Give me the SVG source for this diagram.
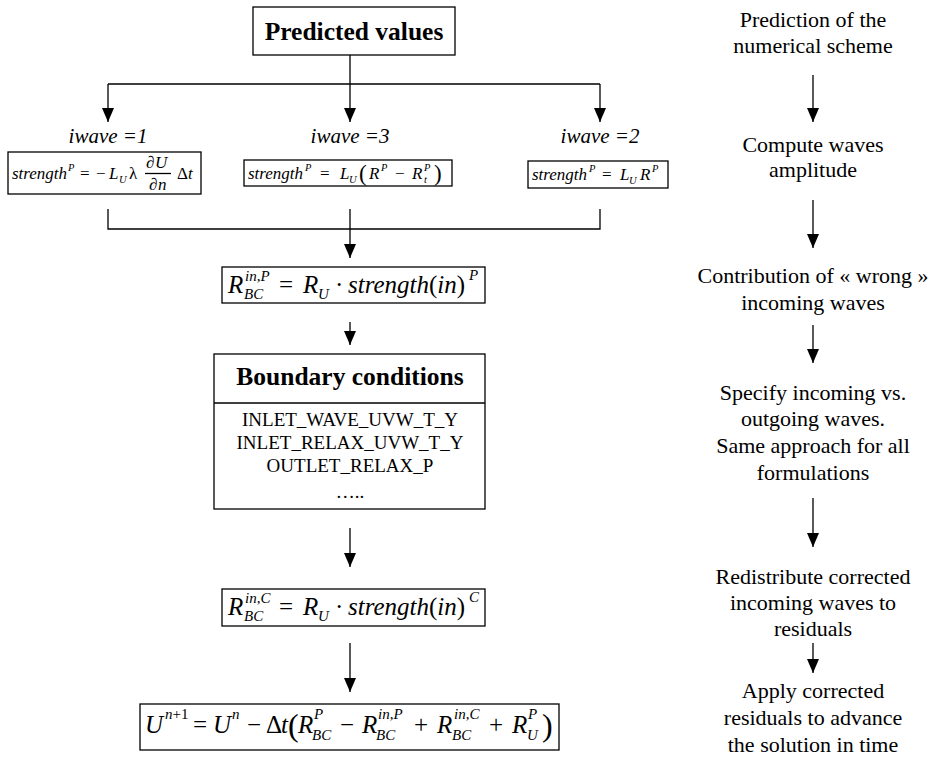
<svg xmlns="http://www.w3.org/2000/svg" width="933" height="758" viewBox="0 0 933 758">
<style>
text{font-family:"Liberation Serif","Times New Roman",serif;fill:#000}
.box{fill:#fff;stroke:#000;stroke-width:1.3}
.ln{fill:none;stroke:#000;stroke-width:1.3}
.t22{font-size:22px;text-anchor:middle}
.ttl{font-size:25.5px;font-weight:bold;text-anchor:middle}
.bc{font-size:19px;text-anchor:middle}
.iw{font-size:21px;font-style:italic;text-anchor:middle}
.i{font-style:italic}
.f17{font-size:17px}
.f25{font-size:25px}
.s10{font-size:10.5px}
.s15{font-size:15px}
</style>
<defs>
<marker id="ah" markerUnits="userSpaceOnUse" markerWidth="14" markerHeight="16" viewBox="0 0 14 16" refX="14" refY="8" orient="auto">
<path d="M0,2 L14,8 L0,14 Z" fill="#000"/>
</marker>
</defs>

<g id="connectors">
<path class="ln" d="M350,55 V84 M108,84 H600"/>
<path class="ln" d="M108,84 V122" marker-end="url(#ah)"/>
<path class="ln" d="M350,84 V122" marker-end="url(#ah)"/>
<path class="ln" d="M600,84 V122" marker-end="url(#ah)"/>
<path class="ln" d="M108,209 V229 H600 V209"/>
<path class="ln" d="M350,209 V258" marker-end="url(#ah)"/>
<path class="ln" d="M350,322 V345" marker-end="url(#ah)"/>
<path class="ln" d="M350,528 V567" marker-end="url(#ah)"/>
<path class="ln" d="M350,643 V692" marker-end="url(#ah)"/>
<path class="ln" d="M813,75 V122" marker-end="url(#ah)"/>
<path class="ln" d="M813,200 V248" marker-end="url(#ah)"/>
<path class="ln" d="M813,325 V363" marker-end="url(#ah)"/>
<path class="ln" d="M813,498 V547" marker-end="url(#ah)"/>
<path class="ln" d="M813,643 V673" marker-end="url(#ah)"/>
</g>

<g id="predicted">
<rect class="box" x="253" y="7" width="202" height="48"/>
<text class="ttl" x="354" y="40">Predicted values</text>
</g>

<g id="wave1">
<text class="iw" x="108" y="143">iwave =1</text>
<rect class="box" x="8" y="152" width="193" height="42"/>
<text class="f17"><tspan class="i" x="12" y="179">strength</tspan><tspan class="i s10" x="68" y="171">P</tspan><tspan x="80" y="179">=</tspan><tspan x="96" y="179">−</tspan><tspan class="i" x="109" y="179">L</tspan><tspan class="i s10" x="119" y="183">U</tspan><tspan x="129" y="179">λ</tspan><tspan x="146" y="168">∂</tspan><tspan class="i" x="155" y="168">U</tspan><tspan x="149" y="190">∂</tspan><tspan class="i" x="158" y="190">n</tspan><tspan x="177" y="179">Δ</tspan><tspan class="i" x="188" y="179">t</tspan></text>
<path class="ln" d="M145,173.5 H171" stroke-width="1"/>
</g>

<g id="wave3">
<text class="iw" x="350" y="143">iwave =3</text>
<rect class="box" x="244" y="160" width="208" height="26"/>
<text class="f17"><tspan class="i" x="248" y="179">strength</tspan><tspan class="i s10" x="305" y="171">P</tspan><tspan x="320" y="179">=</tspan><tspan class="i" x="340" y="179">L</tspan><tspan class="i s10" x="349" y="183">U</tspan><tspan x="369" y="179" class="i">R</tspan><tspan class="i s10" x="381" y="171">P</tspan><tspan x="395" y="179">−</tspan><tspan class="i" x="412" y="179">R</tspan><tspan class="i s10" x="424" y="171">P</tspan><tspan class="i s10" x="424" y="183">t</tspan></text>
<text x="359" y="181" font-size="23" transform="translate(0 0)">(</text>
<text x="434" y="181" font-size="23">)</text>
</g>

<g id="wave2">
<text class="iw" x="600" y="143">iwave =2</text>
<rect class="box" x="528" y="161" width="140" height="27"/>
<text class="f17"><tspan class="i" x="532" y="180">strength</tspan><tspan class="i s10" x="589" y="172">P</tspan><tspan x="602" y="180">=</tspan><tspan class="i" x="620" y="180">L</tspan><tspan class="i s10" x="629" y="184">U</tspan><tspan class="i" x="640" y="180">R</tspan><tspan class="i s10" x="652" y="172">P</tspan></text>
</g>

<g id="rbc-p">
<rect class="box" x="222" y="267" width="263" height="36"/>
<text class="f25"><tspan class="i" x="228" y="293">R</tspan><tspan class="i s15" x="245" y="281">in,P</tspan><tspan class="i s15" x="244" y="299">BC</tspan><tspan x="279" y="293">=</tspan><tspan class="i" x="303" y="293">R</tspan><tspan class="i s15" x="318" y="299">U</tspan><tspan x="335" y="293">·</tspan><tspan class="i" x="348" y="293">strength</tspan><tspan>(</tspan><tspan class="i">in</tspan><tspan>)</tspan><tspan class="i s15" x="469" y="280">P</tspan></text>
</g>

<g id="boundary">
<rect class="box" x="214" y="354" width="271" height="155"/>
<path class="ln" d="M214,403 H485"/>
<text class="ttl" x="350" y="385">Boundary conditions</text>
<text class="bc" x="350" y="426">INLET_WAVE_UVW_T_Y</text>
<text class="bc" x="350" y="449">INLET_RELAX_UVW_T_Y</text>
<text class="bc" x="350" y="472">OUTLET_RELAX_P</text>
<text class="bc" x="350" y="498">…..</text>
</g>

<g id="rbc-c">
<rect class="box" x="222" y="589" width="263" height="37"/>
<text class="f25"><tspan class="i" x="228" y="615">R</tspan><tspan class="i s15" x="245" y="603">in,C</tspan><tspan class="i s15" x="244" y="621">BC</tspan><tspan x="279" y="615">=</tspan><tspan class="i" x="303" y="615">R</tspan><tspan class="i s15" x="318" y="621">U</tspan><tspan x="335" y="615">·</tspan><tspan class="i" x="348" y="615">strength</tspan><tspan>(</tspan><tspan class="i">in</tspan><tspan>)</tspan><tspan class="i s15" x="469" y="602">C</tspan></text>
</g>

<g id="update">
<rect class="box" x="140" y="704" width="419" height="46"/>
<text class="f25"><tspan class="i" x="145" y="733">U</tspan><tspan class="s15" x="165" y="719"><tspan class="i">n</tspan>+1</tspan><tspan x="193" y="733">=</tspan><tspan class="i" x="213" y="733">U</tspan><tspan class="i s15" x="232" y="719">n</tspan><tspan x="247" y="733">−</tspan><tspan x="266" y="733">Δ</tspan><tspan class="i" x="281" y="733">t</tspan><tspan class="i" x="298" y="733">R</tspan><tspan class="i s15" x="314" y="719">P</tspan><tspan class="i s15" x="312" y="740">BC</tspan><tspan x="340" y="733">−</tspan><tspan class="i" x="362" y="733">R</tspan><tspan class="i s15" x="378" y="719">in,P</tspan><tspan class="i s15" x="376" y="740">BC</tspan><tspan x="414" y="733">+</tspan><tspan class="i" x="437" y="733">R</tspan><tspan class="i s15" x="454" y="719">in,C</tspan><tspan class="i s15" x="452" y="740">BC</tspan><tspan x="489" y="733">+</tspan><tspan class="i" x="512" y="733">R</tspan><tspan class="i s15" x="528" y="719">P</tspan><tspan class="i s15" x="527" y="740">U</tspan></text>
<text x="288" y="736" font-size="32">(</text>
<text x="542" y="736" font-size="32">)</text>
</g>

<g id="steps">
<text class="t22"><tspan x="813" y="27">Prediction of the</tspan><tspan x="813" y="53">numerical scheme</tspan></text>
<text class="t22"><tspan x="813" y="152">Compute waves</tspan><tspan x="813" y="177">amplitude</tspan></text>
<text class="t22"><tspan x="813" y="283">Contribution of « wrong »</tspan><tspan x="813" y="310">incoming waves</tspan></text>
<text class="t22"><tspan x="813" y="400">Specify incoming vs.</tspan><tspan x="813" y="426">outgoing waves.</tspan><tspan x="813" y="453">Same approach for all</tspan><tspan x="813" y="480">formulations</tspan></text>
<text class="t22"><tspan x="813" y="584">Redistribute corrected</tspan><tspan x="813" y="610">incoming waves to</tspan><tspan x="813" y="636">residuals</tspan></text>
<text class="t22"><tspan x="813" y="698">Apply corrected</tspan><tspan x="813" y="725">residuals to advance</tspan><tspan x="813" y="752">the solution in time</tspan></text>
</g>
</svg>
